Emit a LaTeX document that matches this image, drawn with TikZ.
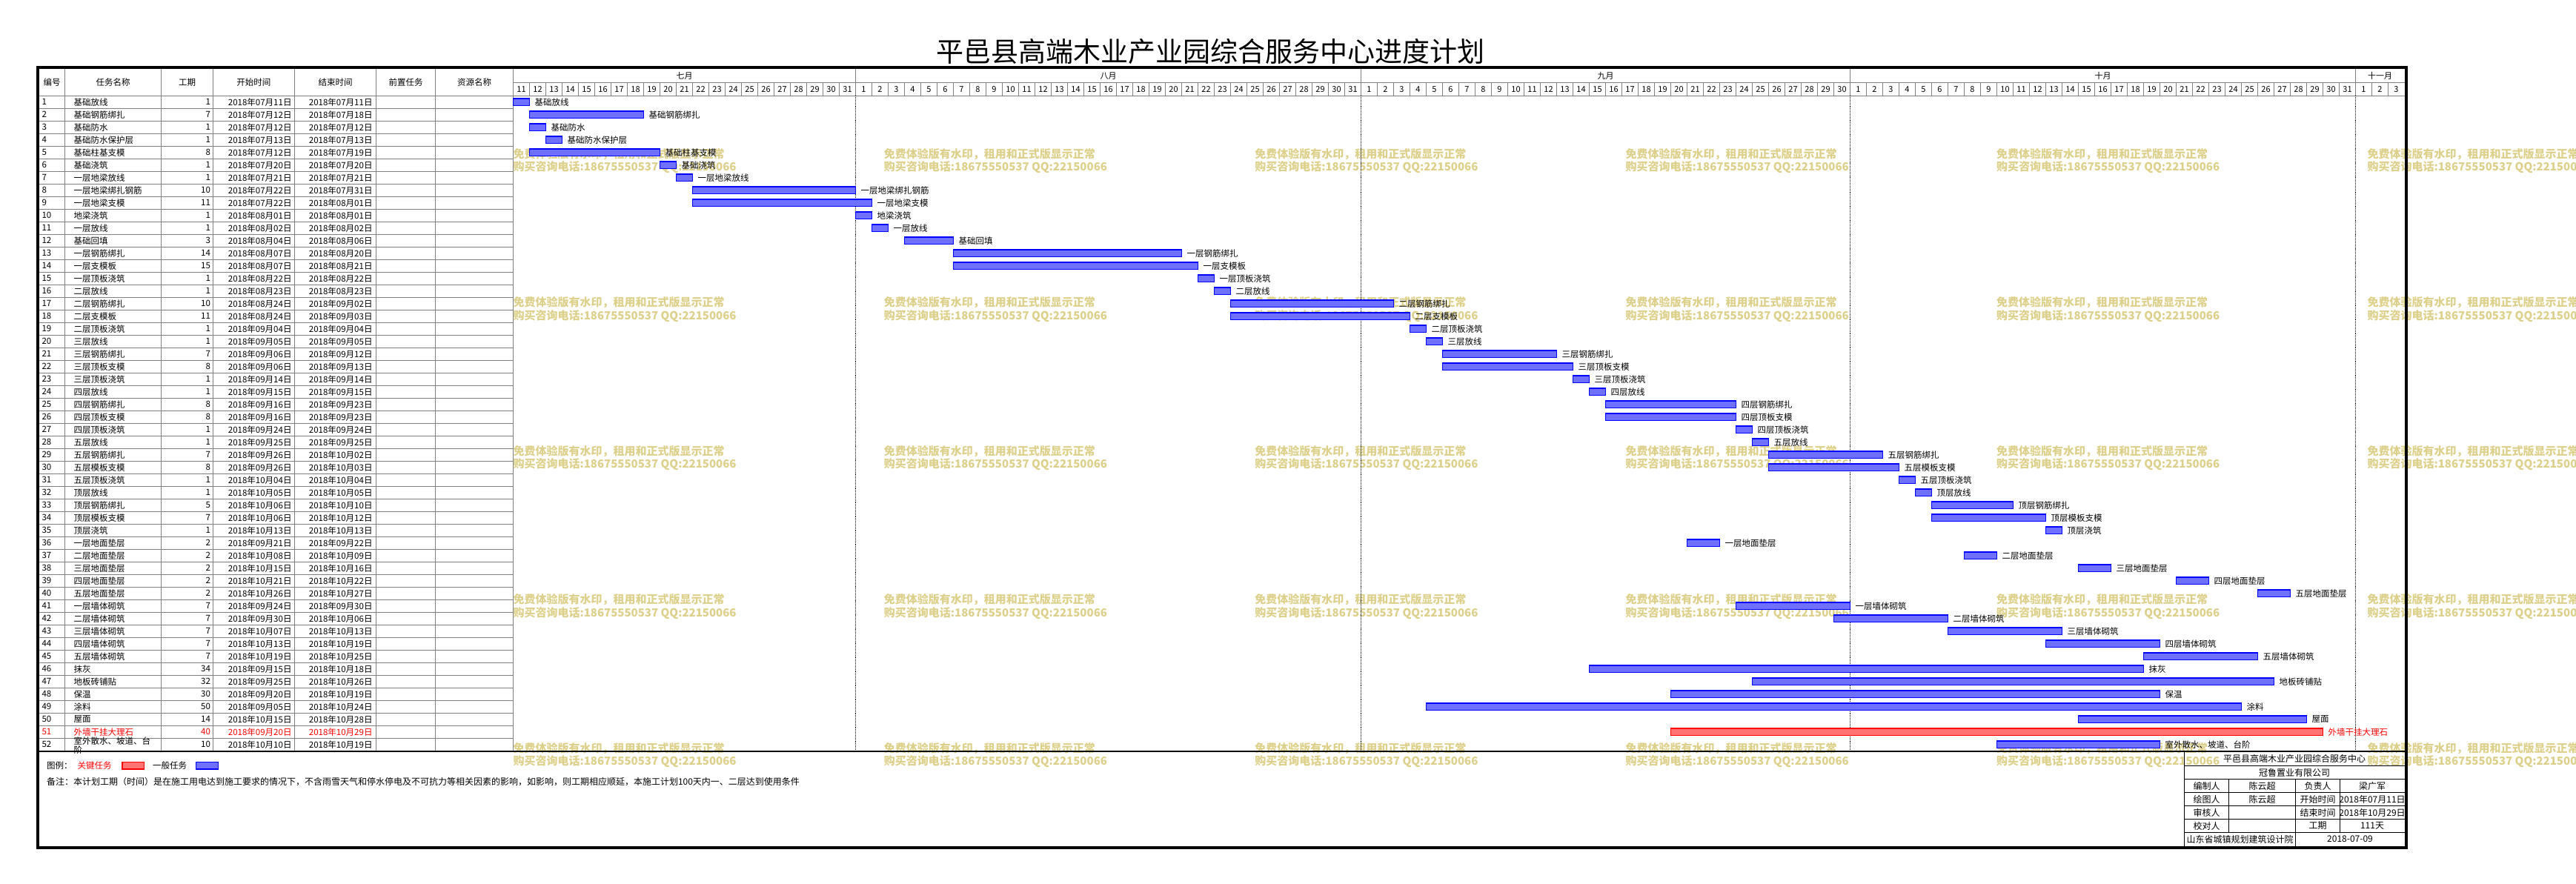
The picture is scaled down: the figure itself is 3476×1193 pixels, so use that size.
\documentclass[tikz,border=0pt]{standalone}
\usepackage{fontspec}
\setmainfont{Noto Sans CJK SC}
\usepackage{tikz}
\usetikzlibrary{positioning,calc}

\definecolor{wmyellow}{RGB}{221,208,138}
\definecolor{linegray}{RGB}{128,128,128}
\definecolor{genblue}{RGB}{112,112,255}
\definecolor{critred}{RGB}{255,115,115}

\begin{document}
\begin{tikzpicture}[x=1pt,y=-1pt,
  every node/.style={inner sep=0pt,outer sep=0pt},
  cell/.style={font=\fontsize{11.5}{12}\selectfont},
  daylab/.style={font=\fontsize{11}{12}\selectfont},
  tblock/.style={font=\fontsize{12}{13}\selectfont},
  wmtext/.style={font=\fontsize{15}{16}\selectfont\bfseries,text=wmyellow,anchor=west},
  gridline/.style={draw=linegray,line width=1pt},
  blockline/.style={draw=black,line width=1.3pt},
  genbar/.style={draw=blue,fill=genblue,line width=1.6pt,minimum height=9.4pt},
  critbar/.style={draw=red,fill=critred,line width=1.6pt,minimum height=9.4pt},
  barname/.style={font=\fontsize{11.5}{12}\selectfont}]
\useasboundingbox (0,0) rectangle (3476,1193);

% title
\node[font=\fontsize{37}{40}\selectfont] (title) at (1633,69) {平邑县高端木业产业园综合服务中心进度计划};

% watermark
\foreach \i in {0,...,5}
  \foreach \j in {0,...,4} {
    \node[wmtext] (wmA\i\j) at ({692.5+500.4*\i},{208+200.5*\j}) {免费体验版有水印，租用和正式版显示正常};
    \node[wmtext] (wmB\i\j) at ({692.5+500.4*\i},{226+200.5*\j}) {购买咨询电话:18675550537 QQ:22150066};
  }

% table grid
\foreach \k in {1,...,51}
  \draw[gridline] (52.7,{129.3+17*\k}) -- (692.5,{129.3+17*\k});
\foreach \cx in {87.5,217.4,287.5,397.3,507.6,587.5,692.5}
  \draw[gridline] (\cx,93.3) -- (\cx,1013.5);

% time scale
\draw[gridline] (692.5,111.7) -- (3244.5,111.7);
\draw[gridline] (52.7,129.3) -- (3244.5,129.3);
\foreach \k in {1,...,115}
  \draw[gridline] ({692.5+22*\k},111.7) -- ({692.5+22*\k},129.3);
\foreach \k in {21,52,82,113} {
  \draw[gridline] ({692.5+22*\k},93.3) -- ({692.5+22*\k},129.3);
  \draw[densely dotted,line width=0.9pt] ({692.5+22*\k},129.3) -- ({692.5+22*\k},1013.5);
}
\foreach \mname/\mx [count=\c] in {七月/923.5,八月/1495.5,九月/2166.5,十月/2837.5,十一月/3211.5}
  \node[daylab] (mon\c) at (\mx,102.5) {\mname};
\foreach \first/\last/\base in {11/31/0,1/31/21,1/30/52,1/31/82,1/3/113}
  \foreach \dd in {\first,...,\last}
    \node[daylab] (day\base-\dd) at ({692.5+22*(\base+\dd-\first)+11},120.5) {\dd};

% table head
\foreach \hd/\hx [count=\c] in {编号/70.1,任务名称/152.5,工期/252.5,开始时间/342.4,结束时间/452.5,前置任务/547.6,资源名称/640}
  \node[cell] (head\c) at (\hx,111.3) {\hd};

% tasks
\foreach \id/\task/\dur/\smo/\sdy/\emo/\edy/\off in {
  1/基础放线/1/07/11/07/11/0,
  2/基础钢筋绑扎/7/07/12/07/18/1,
  3/基础防水/1/07/12/07/12/1,
  4/基础防水保护层/1/07/13/07/13/2,
  5/基础柱基支模/8/07/12/07/19/1,
  6/基础浇筑/1/07/20/07/20/9,
  7/一层地梁放线/1/07/21/07/21/10,
  8/一层地梁绑扎钢筋/10/07/22/07/31/11,
  9/一层地梁支模/11/07/22/08/01/11,
  10/地梁浇筑/1/08/01/08/01/21,
  11/一层放线/1/08/02/08/02/22,
  12/基础回填/3/08/04/08/06/24,
  13/一层钢筋绑扎/14/08/07/08/20/27,
  14/一层支模板/15/08/07/08/21/27,
  15/一层顶板浇筑/1/08/22/08/22/42,
  16/二层放线/1/08/23/08/23/43,
  17/二层钢筋绑扎/10/08/24/09/02/44,
  18/二层支模板/11/08/24/09/03/44,
  19/二层顶板浇筑/1/09/04/09/04/55,
  20/三层放线/1/09/05/09/05/56,
  21/三层钢筋绑扎/7/09/06/09/12/57,
  22/三层顶板支模/8/09/06/09/13/57,
  23/三层顶板浇筑/1/09/14/09/14/65,
  24/四层放线/1/09/15/09/15/66,
  25/四层钢筋绑扎/8/09/16/09/23/67,
  26/四层顶板支模/8/09/16/09/23/67,
  27/四层顶板浇筑/1/09/24/09/24/75,
  28/五层放线/1/09/25/09/25/76,
  29/五层钢筋绑扎/7/09/26/10/02/77,
  30/五层模板支模/8/09/26/10/03/77,
  31/五层顶板浇筑/1/10/04/10/04/85,
  32/顶层放线/1/10/05/10/05/86,
  33/顶层钢筋绑扎/5/10/06/10/10/87,
  34/顶层模板支模/7/10/06/10/12/87,
  35/顶层浇筑/1/10/13/10/13/94,
  36/一层地面垫层/2/09/21/09/22/72,
  37/二层地面垫层/2/10/08/10/09/89,
  38/三层地面垫层/2/10/15/10/16/96,
  39/四层地面垫层/2/10/21/10/22/102,
  40/五层地面垫层/2/10/26/10/27/107,
  41/一层墙体砌筑/7/09/24/09/30/75,
  42/二层墙体砌筑/7/09/30/10/06/81,
  43/三层墙体砌筑/7/10/07/10/13/88,
  44/四层墙体砌筑/7/10/13/10/19/94,
  45/五层墙体砌筑/7/10/19/10/25/100,
  46/抹灰/34/09/15/10/18/66,
  47/地板砖铺贴/32/09/25/10/26/76,
  48/保温/30/09/20/10/19/71,
  49/涂料/50/09/05/10/24/56,
  50/屋面/14/10/15/10/28/96} {
  \pgfmathsetmacro\yc{137.8+17*(\id-1)}
  \pgfmathsetmacro\bx{692.5+22*\off}
  \pgfmathsetmacro\bw{22*\dur}
  \node[cell,anchor=west] (no\id) at (56.5,\yc) {\id};
  \node[cell,anchor=west] (name\id) at (99.5,\yc) {\task};
  \node[cell,anchor=east] (dur\id) at (284,\yc) {\dur};
  \node[cell,anchor=east] (start\id) at (393.5,\yc) {2018年{\smo}月{\sdy}日};
  \node[cell,anchor=east] (end\id) at (502.5,\yc) {2018年{\emo}月{\edy}日};
  \node[genbar,minimum width=\bw pt,anchor=west] (bar\id) at (\bx,\yc) {};
  \node[barname,right=7pt of bar\id] (lab\id) {\task};
}

% critical task
\node[cell,anchor=west,text=red] (no51) at (56.5,987.8) {51};
\node[cell,anchor=west,text=red] (name51) at (99.5,987.8) {外墙干挂大理石};
\node[cell,anchor=east,text=red] (dur51) at (284,987.8) {40};
\node[cell,anchor=east,text=red] (start51) at (393.5,987.8) {2018年09月20日};
\node[cell,anchor=east,text=red] (end51) at (502.5,987.8) {2018年10月29日};
\node[critbar,minimum width=880pt,anchor=west] (bar51) at (2254.5,987.8) {};
\node[barname,text=red,right=7pt of bar51] (lab51) {外墙干挂大理石};

\node[cell,anchor=west] (no52) at (56.5,1004.8) {52};
\node[cell,anchor=west,align=left,font=\fontsize{11.5}{11.7}\selectfont] (name52) at (99.5,1006) {室外散水、坡道、台\\阶};
\node[cell,anchor=east] (dur52) at (284,1004.8) {10};
\node[cell,anchor=east] (start52) at (393.5,1004.8) {2018年10月10日};
\node[cell,anchor=east] (end52) at (502.5,1004.8) {2018年10月19日};
\node[genbar,minimum width=220pt,anchor=west] (bar52) at (2694.5,1004.8) {};
\node[barname,right=7pt of bar52] (lab52) {室外散水、坡道、台阶};

\draw[line width=2pt] (52.7,1013.8) -- (3244.5,1013.8);

% legend and remark
\node[cell,anchor=west] (legend) at (63,1033) {图例：};
\node[cell,anchor=west,text=red] (keytask) at (104.7,1033) {关键任务};
\node[critbar,minimum width=29.8pt,right=14pt of keytask] (keybox) {};
\node[cell,right=11.5pt of keybox] (gentask) {一般任务};
\node[genbar,minimum width=29.8pt,right=12.5pt of gentask] (genbox) {};
\node[font=\fontsize{12}{13}\selectfont,anchor=west] (remark) at (63,1055) {备注：本计划工期（时间）是在施工用电达到施工要求的情况下，不含雨雪天气和停水停电及不可抗力等相关因素的影响，如影响，则工期相应顺延，本施工计划100天内一、二层达到使用条件};

% title block
\draw[blockline] (2947.8,1013.8) -- (2947.8,1141.7);
\foreach \ty in {1033.3,1051.7,1069.3,1087.3,1105.3,1123.3}
  \draw[blockline] (2947.8,\ty) -- (3244.5,\ty);
\draw[blockline] (3007.3,1051.7) -- (3007.3,1123.3);
\draw[blockline] (3097.6,1051.7) -- (3097.6,1141.7);
\draw[blockline] (3157.5,1051.7) -- (3157.5,1123.3);
\node[tblock] (tbproj) at (3096,1023.6) {平邑县高端木业产业园综合服务中心};
\node[tblock] (tbcomp) at (3096,1042.5) {冠鲁置业有限公司};
\foreach \ca/\cb/\cc/\cd [count=\r] in {编制人/陈云超/负责人/梁广军,绘图人/陈云超/开始时间/2018年07月11日,审核人//结束时间/2018年10月29日,校对人//工期/111天} {
  \pgfmathsetmacro\ry{1060.5+18*(\r-1)}
  \node[tblock] (tbA\r) at (2977.5,\ry) {\ca};
  \node[tblock] (tbB\r) at (3052.5,\ry) {\cb};
  \node[tblock] (tbC\r) at (3127.5,\ry) {\cc};
  \node[tblock] (tbD\r) at (3201,\ry) {\cd};
}
\node[tblock] (tbinst) at (3022.7,1132.5) {山东省城镇规划建筑设计院};
\node[tblock] (tbdate) at (3171,1132.5) {2018-07-09};

% frame
\draw[line width=4.4pt] (50.8,91.3) rectangle (3246.8,1143.7);
\end{tikzpicture}
\end{document}
